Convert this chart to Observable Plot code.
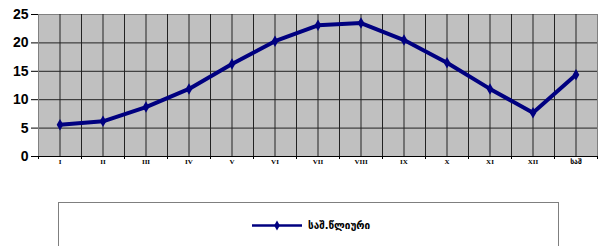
<!DOCTYPE html>
<html><head><meta charset="utf-8">
<script src="https://cdn.jsdelivr.net/npm/d3@7"></script>
<script src="https://cdn.jsdelivr.net/npm/@observablehq/plot@0.6"></script>
<style>
body{margin:0;background:#fff;}
#wrap{position:relative;width:599px;height:246px;overflow:hidden;}
#legend{position:absolute;left:58px;top:202px;width:501px;height:60px;border:1px solid #7f7f7f;box-sizing:border-box;background:#fff;}
</style></head>
<body><div id="wrap"><div id="chart"></div><div id="legend"></div></div>
<script>
const months = ["I","II","III","IV","V","VI","VII","VIII","IX","X","XI","XII","საშ"];
const temps = [5.6, 6.2, 8.7, 11.9, 16.3, 20.3, 23.1, 23.5, 20.5, 16.5, 11.9, 7.7, 14.4];
const yTicks = [0, 5, 10, 15, 20, 25];
const seriesName = "საშ.წლიური";

const data = months.map((m, i) => ({m, x: i + 0.5, v: temps[i]}));
const n = months.length;
const boundaries = d3.range(0, n + 1);
const centers = d3.range(0, n).map(i => i + 0.5);
const halfGrid = d3.range(0, n * 2 + 1).map(i => i / 2);

const chart = Plot.plot({
  width: 599, height: 170,
  marginLeft: 38, marginRight: 2, marginTop: 14, marginBottom: 14,
  x: {domain: [0, n], axis: null},
  y: {domain: [0, 25], axis: null},
  marks: [
    Plot.frame({fill: "#c0c0c0", stroke: "none"}),
    Plot.ruleY([5, 10, 15, 20], {stroke: "#222", strokeWidth: 1}),
    Plot.ruleY([25], {stroke: "#808080", strokeWidth: 1}),
    Plot.ruleX(halfGrid.slice(1, -1), {stroke: "#222", strokeWidth: 1}),
    Plot.ruleX([0], {stroke: "#808080"}),
    Plot.ruleX([n], {stroke: "#808080"}),
    Plot.ruleY([0], {stroke: "#000", strokeWidth: 1}),
    Plot.axisX(boundaries, {tickSize: 3, tickFormat: () => "", stroke: "#000", label: null}),
    Plot.axisX(centers, {tickSize: 0, tickPadding: 3, tickFormat: d => months[Math.floor(d)], fontSize: 7, fontWeight: "bold", fontFamily: "'Liberation Serif', 'DejaVu Sans'", fill: "#000", label: null}),
    Plot.axisY(yTicks, {tickSize: 7, tickPadding: 3, fontSize: 14, fontWeight: "bold", fontFamily: "Liberation Sans, Arial", fill: "#000", stroke: "#000", label: null}),
    Plot.line(data, {x: "x", y: "v", stroke: "#000080", strokeWidth: 4, strokeLinejoin: "round"}),
    Plot.dot(data, {x: "x", y: "v", symbol: "diamond", r: 3.5, fill: "#000080", stroke: "none"})
  ],
  style: {background: "transparent", overflow: "visible", color: "#000"}
});
document.getElementById("chart").appendChild(chart);

// legend
const lg = d3.select("#legend").append("svg").attr("width", 501).attr("height", 60);
lg.append("line").attr("x1", 193).attr("x2", 243).attr("y1", 22.5).attr("y2", 22.5).attr("stroke", "#000080").attr("stroke-width", 2.5);
lg.append("path").attr("d", d3.symbol(d3.symbolDiamond, 28)()).attr("transform", "translate(218,22.5)").attr("fill", "#000080");
lg.append("text").attr("x", 249).attr("y", 22.5).attr("dy", "0.35em").attr("font-family", "DejaVu Sans").attr("font-weight", "bold").attr("font-size", 10).text(seriesName);
</script></body></html>
